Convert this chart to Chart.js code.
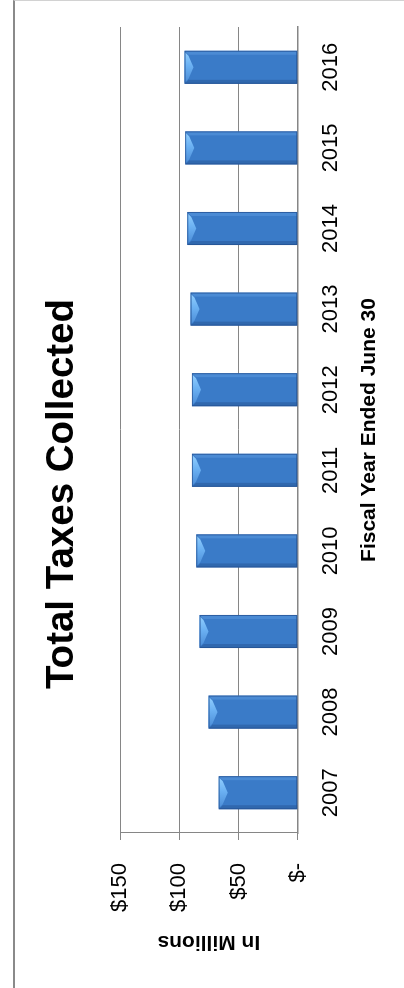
<!DOCTYPE html>
<html>
<head>
<meta charset="utf-8">
<script src="https://cdn.jsdelivr.net/npm/chart.js@4/dist/chart.umd.min.js"></script>
<style>
  html, body { margin: 0; padding: 0; background: #fff; }
  body { width: 404px; height: 988px; overflow: hidden; position: relative; }
  #frame {
    position: absolute; left: 13px; top: 0; width: 400px; height: 1000px;
    border-left: 2px solid #8a8a8a; border-top: 1px solid #d2d2d2;
    box-sizing: border-box; pointer-events: none;
  }
  #rot {
    position: absolute; left: 0; top: 0; width: 988px; height: 404px;
    transform-origin: 0 0; transform: translate(0, 988px) rotate(-90deg);
  }
</style>
</head>
<body>
<div id="rot"><canvas id="c" width="988" height="404"></canvas></div>
<div id="frame"></div>
<script>
const categories = ['2007', '2008', '2009', '2010', '2011', '2012', '2013', '2014', '2015', '2016'];
const taxesCollected = [66.7, 75.2, 82.8, 85.6, 89.3, 89.3, 90.4, 93.2, 95.0, 95.5];
const yTickValues = [0, 50, 100, 150];
const yTickLabels = ['$-', '$50', '$100', '$150'];
const chartTitle = 'Total Taxes Collected';
const xAxisTitle = 'Fiscal Year Ended June 30';
const yAxisTitle = 'In Millions';

const FONT = "'Liberation Sans', Arial, sans-serif";

const bevelPlugin = {
  id: 'bevel',
  afterDatasetsDraw(chart) {
    const meta = chart.getDatasetMeta(0);
    const ctx = chart.ctx;
    meta.data.forEach(el => {
      const p = el.getProps(['x', 'y', 'base', 'width'], true);
      const l = p.x - p.width / 2, r = p.x + p.width / 2, t = p.y, b = p.base;
      const m = (l + r) / 2;
      ctx.save();
      // darker band along left side
      ctx.fillStyle = 'rgba(25,60,115,0.30)';
      ctx.beginPath();
      ctx.moveTo(l, t); ctx.lineTo(l + 4, t + 4); ctx.lineTo(l + 4, b); ctx.lineTo(l, b); ctx.closePath(); ctx.fill();
      // lighter band along right side
      ctx.fillStyle = 'rgba(110,170,235,0.35)';
      ctx.beginPath();
      ctx.moveTo(r, t); ctx.lineTo(r - 4, t + 4); ctx.lineTo(r - 4, b); ctx.lineTo(r, b); ctx.closePath(); ctx.fill();
      // end chamfer wedge
      const g = ctx.createLinearGradient(l, 0, r, 0);
      g.addColorStop(0, 'rgba(75,140,215,0.9)');
      g.addColorStop(0.55, 'rgba(110,180,245,0.95)');
      g.addColorStop(1, 'rgba(150,210,255,1)');
      ctx.fillStyle = g;
      ctx.beginPath();
      ctx.moveTo(l + 1, t); ctx.lineTo(r - 1, t);
      ctx.lineTo(r - 5, t + 4); ctx.lineTo(m, t + 9); ctx.lineTo(l + 5, t + 4);
      ctx.closePath(); ctx.fill();
      // outline
      ctx.strokeStyle = 'rgba(35,80,145,0.75)';
      ctx.lineWidth = 1;
      ctx.strokeRect(l + 0.5, t + 0.5, r - l - 1, b - t - 1);
      ctx.restore();
    });
  }
};

new Chart(document.getElementById('c'), {
  type: 'bar',
  data: {
    labels: categories,
    datasets: [{
      data: taxesCollected,
      backgroundColor: (ctx) => {
        const c = ctx.chart.ctx;
        const el = ctx.element;
        if (!el || el.width === undefined) return '#3a7bc8';
        const l = el.x - el.width / 2, r = el.x + el.width / 2;
        const g = c.createLinearGradient(l, 0, r, 0);
        g.addColorStop(0, '#2f67b0');
        g.addColorStop(0.5, '#3b7cca');
        g.addColorStop(1, '#4485d3');
        return g;
      },
      borderWidth: 0,
      barPercentage: 0.41,
      categoryPercentage: 1.0
    }]
  },
  options: {
    responsive: false,
    animation: false,
    devicePixelRatio: 1,
    layout: { padding: 0 },
    plugins: {
      legend: { display: false },
      tooltip: { enabled: false },
      title: {
        display: true,
        text: chartTitle,
        color: '#000',
        font: { family: FONT, size: 38.5, weight: 'bold' },
        padding: { top: 39, bottom: 34.8 }
      }
    },
    scales: {
      x: {
        grid: { display: false, drawTicks: false },
        border: { display: true, color: '#868686', width: 1.5 },
        ticks: { color: '#000', font: { family: FONT, size: 22 }, padding: 20, maxRotation: 0 },
        title: {
          display: true, text: xAxisTitle, color: '#000',
          font: { family: FONT, size: 21, weight: 'bold' },
          padding: { top: 0, bottom: 22 }
        },
        afterFit: (s) => { s.height = 404 - 297.7; }
      },
      y: {
        min: 0, max: 150,
        afterBuildTicks: (s) => { s.ticks = yTickValues.map(v => ({ value: v })); },
        grid: { color: '#868686', lineWidth: 1, drawTicks: true, tickLength: 7, tickColor: '#868686' },
        border: { display: true, color: '#868686', width: 1 },
        ticks: {
          color: '#000', font: { family: FONT, size: 22 }, padding: 23,
          callback: (v) => yTickLabels[yTickValues.indexOf(v)]
        },
        title: {
          display: true, text: yAxisTitle, color: '#000',
          font: { family: FONT, size: 21, weight: 'bold' },
          padding: { top: 34, bottom: 0 }
        },
        afterFit: (s) => { s.width = 155; }
      },
      spacer: {
        type: 'linear', position: 'right', display: true,
        grid: { display: false, drawTicks: false },
        border: { display: false },
        ticks: { display: false },
        afterFit: (s) => { s.width = 27; }
      }
    }
  },
  plugins: [bevelPlugin]
});
</script>
</body>
</html>
